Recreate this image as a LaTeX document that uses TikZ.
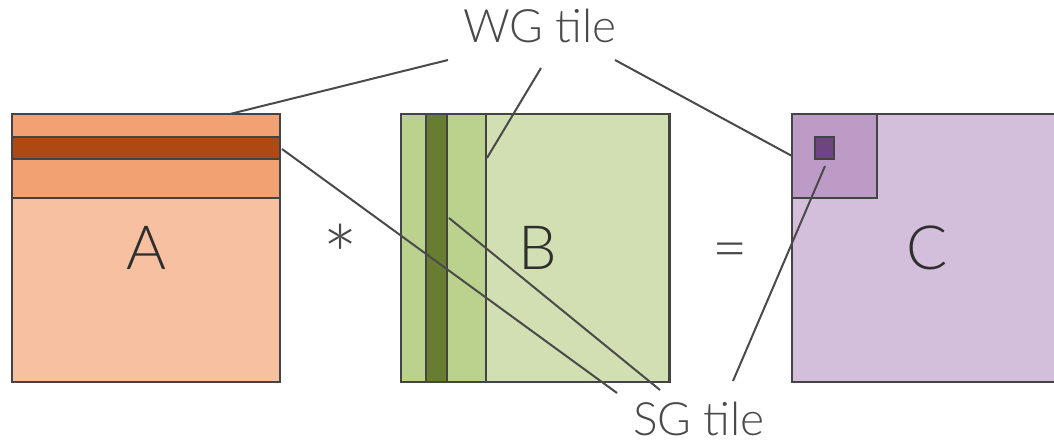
\documentclass[tikz,border=0pt]{standalone}
\usepackage{fontspec}
\setmainfont{Lato}[UprightFont=* Light]
\usetikzlibrary{positioning}

\definecolor{aLight}{HTML}{F7C1A1}
\definecolor{aMid}{HTML}{F2A172}
\definecolor{aDark}{HTML}{AE4913}
\definecolor{bLight}{HTML}{D2DFB3}
\definecolor{bMid}{HTML}{BBD28E}
\definecolor{bDark}{HTML}{687D31}
\definecolor{cLight}{HTML}{D3BEDB}
\definecolor{cMid}{HTML}{BC9CC6}
\definecolor{cDark}{HTML}{6E4580}
\definecolor{edge}{HTML}{444444}
\definecolor{ink}{HTML}{2E2E2E}
\definecolor{wire}{HTML}{4A4A4A}

\begin{document}
\begin{tikzpicture}[x=1pt, y=-1pt,
    matbox/.style={draw=edge, line width=2.6pt, inner sep=0pt,
        minimum width=268pt, minimum height=268pt,
        font=\fontsize{61}{61}\selectfont, text=ink},
    tilebox/.style={draw=edge, line width=2.6pt},
    opsym/.style={anchor=base, font=\fontsize{61}{61}\selectfont, text=wire},
    lbl/.style={anchor=base, font=\fontsize{46}{46}\selectfont, text=wire},
    wire/.style={draw=wire, line width=2pt}]

    \clip (0,0) rectangle (1054,444);
    \useasboundingbox (0,0) rectangle (1054,444);

    % --- Matrices ---
    \node[matbox, fill=aLight] (A) at (146,248) {};
    \node[matbox, fill=bLight] (B) at (535.5,248) {};
    \node[matbox, fill=cLight] (C) at (926,248) {};

    % --- WG / SG tiles ---
    \draw[tilebox, fill=aMid] (12,114) rectangle (280,198);
    \draw[tilebox, fill=aDark] (12,137) rectangle (280,159);
    \draw[tilebox, fill=bMid] (401,114) rectangle (486,382);
    \draw[tilebox, fill=bDark] (426,114) rectangle (447,382);
    \draw[tilebox, fill=cMid] (792,114) rectangle (877,198);
    \draw[tilebox, fill=cDark] (815,137) rectangle (834,159);

    % --- Matrix names and operators ---
    \node[opsym, text=ink] (nameA) at (146,269) {A};
    \node[opsym, text=ink] (nameB) at (538,269) {B};
    \node[opsym, text=ink] (nameC) at (927,269) {C};
    \node[opsym, font=\fontsize{85}{85}\selectfont] (times) at (341,287) {*};
    \node[opsym] (equals) at (730,269) {=};

    % --- Labels ---
    \node[lbl] (wg) at (540,43) {WG tile};
    \node[lbl] (sg) at (699,435) {SG tile};

    % --- Wire ends ---
    \coordinate (wgA) at (448,60);
    \coordinate (wgB) at (541,68);
    \coordinate (wgC) at (615,60);
    \coordinate (tileA) at (230,114);
    \coordinate (tileB) at (487,158);
    \coordinate (tileC) at (792,156);
    \coordinate (sgA) at (617,393);
    \coordinate (sgB) at (660,390);
    \coordinate (sgC) at (733,381);
    \coordinate (subA) at (282,149);
    \coordinate (subB) at (449,218);
    \coordinate (subC) at (825,166);

    % --- Connectors ---
    \draw[wire] (wgA) -- (tileA);
    \draw[wire] (wgB) -- (tileB);
    \draw[wire] (wgC) -- (tileC);
    \draw[wire] (subA) -- (sgA);
    \draw[wire] (subB) -- (sgB);
    \draw[wire] (subC) -- (sgC);

\end{tikzpicture}
\end{document}
